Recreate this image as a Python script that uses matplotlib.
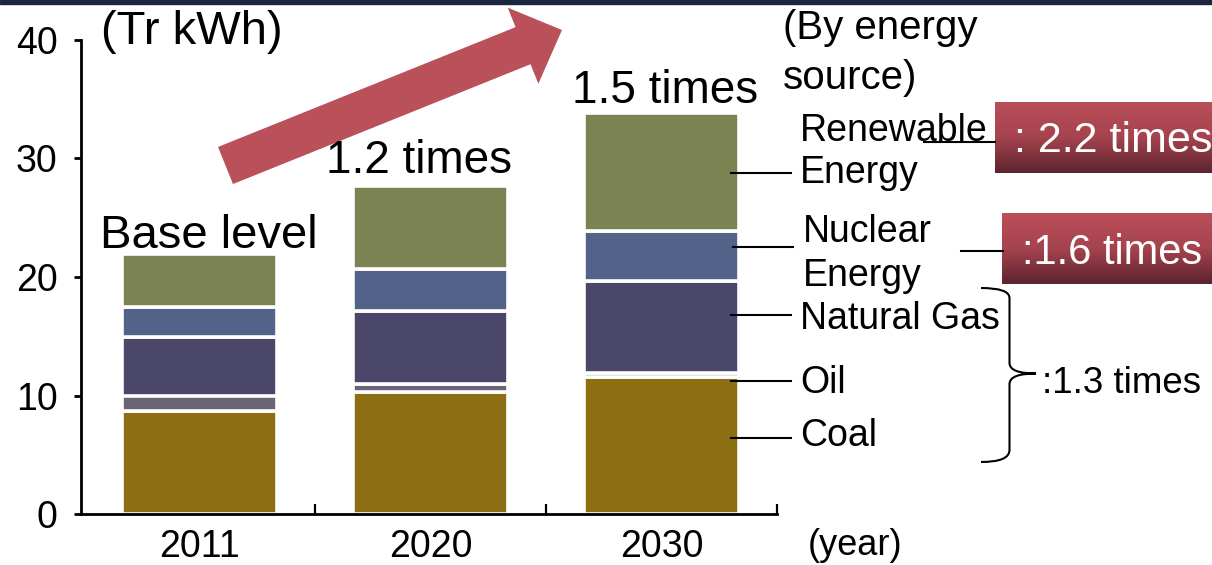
import numpy as np
import matplotlib
matplotlib.use("Agg")
import matplotlib.pyplot as plt
from matplotlib import transforms
from matplotlib.patches import FancyArrow, Rectangle, PathPatch
from matplotlib.path import Path
from matplotlib.lines import Line2D
from matplotlib.colors import LinearSegmentedColormap

plt.rcParams['font.family'] = ['Liberation Sans', 'DejaVu Sans']

# ---- data (Tr kWh) ----
years = ["2011", "2020", "2030"]
coal = [8.7, 10.3, 11.6]
oil = [1.3, 0.7, 0.3]
gas = [4.9, 6.1, 7.8]
nuclear = [2.55, 3.55, 4.2]
renewable = [4.5, 7.05, 9.9]
series_names = ["Coal", "Oil", "Natural Gas", "Nuclear Energy", "Renewable Energy"]
series_colors = ["#8B6F12", "#696476", "#4B476A", "#526289", "#7C8353"]
growth_labels = ["Base level", "1.2 times", "1.5 times"]
yticks = [0, 10, 20, 30, 40]

W, H = 1212, 565
fig = plt.figure(figsize=(W / 100, H / 100), dpi=100)
px = transforms.Affine2D().scale(1 / W, -1 / H).translate(0, 1) + fig.transFigure

ax = fig.add_axes([81 / W, (H - 514) / H, (777 - 81) / W, (514 - 40) / H])
x = np.arange(len(years))
bottom = np.zeros(len(years))
for vals, col in zip([coal, oil, gas, nuclear, renewable], series_colors):
    ax.bar(x, vals, bottom=bottom, width=0.67, color=col, edgecolor="white",
           linewidth=2.6, zorder=1)
    bottom += np.array(vals)

ax.set_xlim(-0.513, 2.5)
ax.set_ylim(0, 40)
ax.set_yticks(yticks)
ax.set_yticklabels([str(v) for v in yticks])
ax.set_xticks(x)
ax.set_xticklabels(years)
ax.set_xticks([0.5, 1.5, 2.5], minor=True)
for s in ["top", "right"]:
    ax.spines[s].set_visible(False)
for s in ["left", "bottom"]:
    ax.spines[s].set_linewidth(2.0)
    ax.spines[s].set_color("black")
ax.tick_params(axis="y", direction="out", length=5, width=2.0, labelsize=27, pad=12)
ax.tick_params(axis="x", which="major", length=0, labelsize=27, pad=11)
ax.tick_params(axis="x", which="minor", direction="in", length=7.5, width=1.6)
ax.patch.set_visible(False)

# top dark strip
fig.patches.append(Rectangle((0, 0), W, 3.5, transform=px, color="#1B2541", zorder=5))

# big arrow
arr = FancyArrow(225.5, 165.5, 336.5, -135.5, width=40, head_width=82, head_length=42,
                 length_includes_head=True, transform=px, color="#B9505A", lw=0, zorder=2)
fig.patches.append(arr)

def T(xp, yp, s, size, color="black", ha="left", va="baseline", z=6):
    fig.text(xp, yp, s, transform=px, fontsize=size, color=color, ha=ha, va=va, zorder=z)

T(101, 44, "(Tr kWh)", 34)
T(100.5, 247.6, growth_labels[0], 34)
T(419, 172.7, growth_labels[1], 33, ha="center")
T(665, 103.3, growth_labels[2], 33, ha="center")
T(783, 39.3, "(By energy", 29)
T(783, 89.3, "source)", 29)
T(800, 140.7, "Renewable", 27)
T(800, 183.3, "Energy", 27)
T(803, 241.7, "Nuclear", 27)
T(803, 286, "Energy", 27)
T(800, 329, "Natural Gas", 27)
T(800, 393, "Oil", 27)
T(800, 446, "Coal", 27)
T(808, 555, "(year)", 26)

# leader lines
for (x0, x1, yy) in [(731, 791, 173.3), (733, 793, 246.7), (731, 791, 315),
                     (731, 791, 380.7), (731, 791, 438.3), (924, 995, 141.7),
                     (960.7, 1002.7, 251)]:
    fig.lines.append(Line2D([x0, x1], [yy, yy], transform=px, color="black", lw=1.5, zorder=4))

# gradient boxes
grad = np.linspace(0, 1, 256).reshape(-1, 1)
cmap = LinearSegmentedColormap.from_list("rb", ["#BA4F59", "#A5434E", "#5C242E"])
for (x0, x1, y0, y1) in [(995, 1212, 101.7, 172.7), (1002, 1212, 213, 284)]:
    bax = fig.add_axes([x0 / W, (H - y1) / H, (x1 - x0) / W, (y1 - y0) / H], zorder=3)
    bax.imshow(grad, aspect="auto", cmap=cmap, extent=[0, 1, 0, 1], origin="upper")
    bax.set_axis_off()

T(1014.5, 152.3, ": 2.2 times", 31, color="white", z=10)
T(1022, 264, ":1.6 times", 30, color="white", z=10)
T(1042, 393.3, ":1.3 times", 26.5)

# brace
verts = [(981, 288), (1009.5, 288), (1009.5, 298), (1009.5, 363),
         (1009.5, 373.5), (1036, 373.5), (1009.5, 373.5), (1009.5, 384),
         (1009.5, 450), (1009.5, 462), (981, 462)]
codes = [Path.MOVETO, Path.CURVE3, Path.CURVE3, Path.LINETO,
         Path.CURVE3, Path.CURVE3, Path.CURVE3, Path.CURVE3,
         Path.LINETO, Path.CURVE3, Path.CURVE3]
fig.patches.append(PathPatch(Path(verts, codes), transform=px, fill=False,
                             edgecolor="black", lw=1.5, zorder=4))

fig.savefig("out.png", dpi=100)
